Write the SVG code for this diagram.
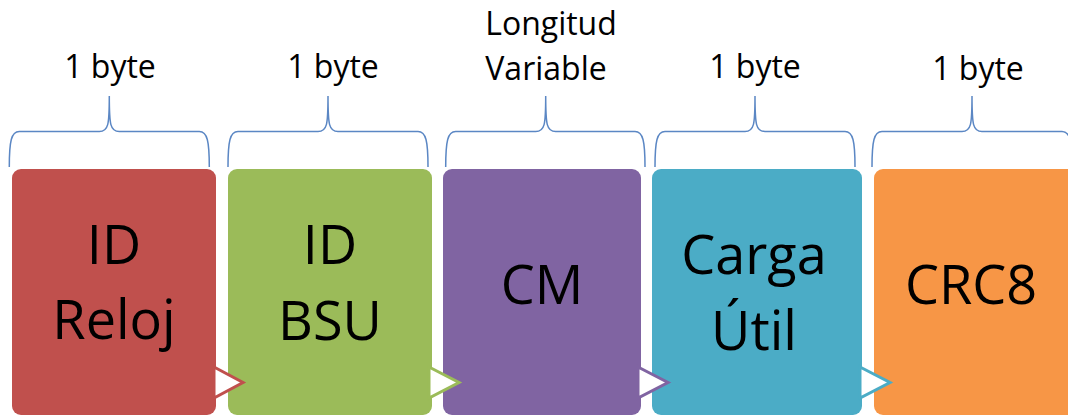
<svg xmlns="http://www.w3.org/2000/svg" width="1068" height="416" viewBox="0 0 1068 416">
<style>
.small{font-family:"Open Sans","Noto Sans","Liberation Sans",sans-serif;font-size:32px;fill:#000;text-anchor:middle}
.big{font-family:"Open Sans","Noto Sans","Liberation Sans",sans-serif;font-size:54px;fill:#000;text-anchor:middle}
.brace{fill:none;stroke:#5B87C4;stroke-width:1.5}
.tri{fill:#FFFFFF;stroke-width:3;stroke-linejoin:miter}
</style>
<rect width="1068" height="416" fill="#FFFFFF"/>
<g id="braces">
<path class="brace" d="M9.3 167 C9.3 141 11.3 131.5 19.3 131.5 L99.3 131.5 C108.3 131.5 109.3 125 109.3 96 C109.3 125 110.3 131.5 119.3 131.5 L199.3 131.5 C207.3 131.5 209.3 141 209.3 167"/>
<path class="brace" d="M228 167 C228 141 230 131.5 238 131.5 L318 131.5 C327 131.5 328 125 328 96 C328 125 329 131.5 338 131.5 L418 131.5 C426 131.5 428 141 428 167"/>
<path class="brace" d="M445.7 167 C445.7 141 447.7 131.5 455.7 131.5 L535.7 131.5 C544.7 131.5 545.7 125 545.7 96 C545.7 125 546.7 131.5 555.7 131.5 L635 131.5 C643 131.5 645 141 645 167"/>
<path class="brace" d="M655 167 C655 141 657 131.5 665 131.5 L745 131.5 C754 131.5 755 125 755 96 C755 125 756 131.5 765 131.5 L845 131.5 C853 131.5 855 141 855 167"/>
<path class="brace" d="M872 167 C872 141 874 131.5 882 131.5 L962 131.5 C971 131.5 972 125 972 96 C972 125 973 131.5 982 131.5 L1062 131.5 C1070 131.5 1072 141 1072 167"/>
</g>
<g id="labels">
<text class="small" x="110" y="78">1 byte</text>
<text class="small" x="333" y="78">1 byte</text>
<text class="small" x="551" y="35">Longitud</text>
<text class="small" x="546" y="80">Variable</text>
<text class="small" x="755" y="78">1 byte</text>
<text class="small" x="978" y="80">1 byte</text>
</g>
<g id="node-id-reloj">
<rect x="12" y="169" width="204" height="246" rx="9" fill="#C0504D"/>
<text class="big" x="114" y="264">ID</text>
<text class="big" x="114" y="339">Reloj</text>
</g>
<g id="node-id-bsu">
<rect x="228" y="169" width="204" height="246" rx="9" fill="#9BBB59"/>
<text class="big" x="330" y="264">ID</text>
<text class="big" x="330" y="340">BSU</text>
</g>
<g id="node-cm">
<rect x="443" y="169" width="198" height="246" rx="9" fill="#8064A2"/>
<text class="big" x="542" y="304">CM</text>
</g>
<g id="node-carga-util">
<rect x="652" y="169" width="210" height="246" rx="9" fill="#4BACC6"/>
<text class="big" x="754" y="274">Carga</text>
<text class="big" x="754" y="350">Útil</text>
</g>
<g id="node-crc8">
<rect x="874" y="169" width="204" height="246" rx="9" fill="#F79646"/>
<text class="big" x="971" y="304">CRC8</text>
</g>
<g id="connectors">
<polygon class="tri" points="214,367 243,382.5 214,398" stroke="#C0504D"/>
<polygon class="tri" points="429,367 459,382.5 429,398" stroke="#9BBB59"/>
<polygon class="tri" points="638,367 668,382.5 638,398" stroke="#8064A2"/>
<polygon class="tri" points="860,367 890,382.5 860,398" stroke="#4BACC6"/>
</g>
</svg>
